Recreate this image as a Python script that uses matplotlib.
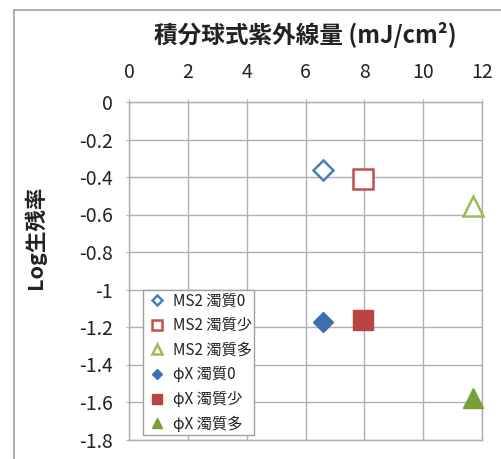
import matplotlib
matplotlib.use('Agg')
import matplotlib.pyplot as plt
from matplotlib.lines import Line2D

plt.rcParams['font.family'] = ['Noto Sans CJK JP', 'DejaVu Sans']

# ---- data ----
series = ['MS2 濁質0', 'MS2 濁質少', 'MS2 濁質多', 'φX 濁質0', 'φX 濁質少', 'φX 濁質多']
dose = [6.6, 7.95, 11.7, 6.6, 7.95, 11.7]
log_surv = [-0.36, -0.41, -0.555, -1.175, -1.165, -1.58]
x_ticks = [0, 2, 4, 6, 8, 10, 12]
y_ticks = [0, -0.2, -0.4, -0.6, -0.8, -1, -1.2, -1.4, -1.6, -1.8]
y_tick_labels = ['0', '-0.2', '-0.4', '-0.6', '-0.8', '-1', '-1.2', '-1.4', '-1.6', '-1.8']
title = '積分球式紫外線量 (mJ/cm²)'
ylabel = 'Log生残率'

# ---- styles ----
markers = ['D', 's', '^', 'D', 's', '^']
sizes = [10, 14, 15, 10, 14, 15]
edge = ['#4a7ebb', '#c0504d', '#9bbb59', '#3f6fae', '#b94441', '#77a03a']
face = ['white', 'white', 'white', '#3f6fae', '#b94441', '#77a03a']
grid_c = '#b0b0b0'

W, H = 501, 459
fig = plt.figure(figsize=(W / 100, H / 100), dpi=100)
ax = fig.add_axes([129 / W, 1 - 439.5 / H, (482 - 129) / W, (439.5 - 102) / H])

for i in range(len(series)):
    ax.plot([dose[i]], [log_surv[i]], linestyle='none', marker=markers[i],
            markersize=sizes[i], markerfacecolor=face[i], markeredgecolor=edge[i],
            markeredgewidth=1.8 if face[i] == 'white' else 1.0,
            label=series[i], clip_on=False, zorder=5)

ax.set_xlim(0, 12)
ax.set_ylim(-1.8, 0)
ax.set_xticks(x_ticks)
ax.set_yticks(y_ticks)
ax.set_yticklabels(y_tick_labels)
ax.xaxis.tick_top()
ax.grid(True, color=grid_c, linewidth=1.0)
ax.set_axisbelow(True)
for s in ax.spines.values():
    s.set_color(grid_c)
    s.set_linewidth(1.0)
ax.tick_params(axis='both', direction='inout', length=5, color=grid_c,
               labelsize=14, labelcolor='#222222')
ax.tick_params(axis='y', pad=9)
ax.tick_params(axis='x', pad=11)

leg = ax.legend(loc='lower left', bbox_to_anchor=(143 / W, 1 - 435 / H),
                bbox_transform=fig.transFigure, borderaxespad=0,
                fontsize=11, markerscale=0.5, handlelength=1.5,
                handletextpad=0.3, labelspacing=0.5, borderpad=0.15,
                fancybox=False, framealpha=1, edgecolor='#a0a0a0')
leg.get_frame().set_linewidth(1.0)
for t in leg.get_texts():
    t.set_color('#222222')

fig.text(305 / W, 1 - 35 / H, title, ha='center', va='center',
         fontsize=17, fontweight='bold', color='#222222')
fig.text(35 / W, 1 - 237 / H, ylabel, rotation=90, ha='center', va='center',
         fontsize=15.5, fontweight='bold', color='#222222')

# chart area border
fig.add_artist(Line2D([14 / W, 14 / W], [0, 1 - 10 / H], transform=fig.transFigure,
                      color='#a0a0a0', linewidth=1.2))
fig.add_artist(Line2D([14 / W, 1], [1 - 10 / H, 1 - 10 / H], transform=fig.transFigure,
                      color='#a0a0a0', linewidth=1.2))

fig.savefig('out.png', dpi=100)
